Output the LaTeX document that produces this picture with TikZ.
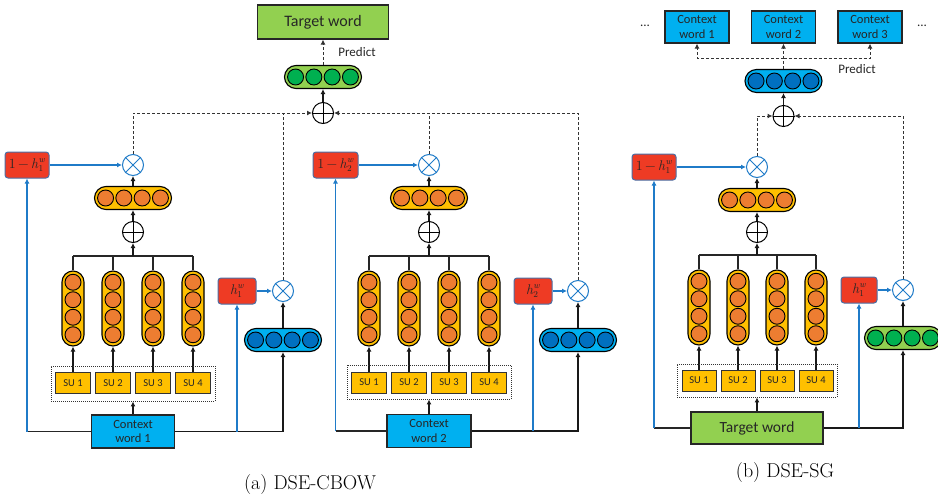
\documentclass[tikz,border=0pt]{standalone}
\usepackage{fontspec}
\setsansfont{Carlito}
\usetikzlibrary{arrows.meta}
\definecolor{cwBlue}{HTML}{00B0F0}
\definecolor{bDot}{HTML}{0070C0}
\definecolor{gBox}{HTML}{92D050}
\definecolor{gDot}{HTML}{00B050}
\definecolor{yBox}{HTML}{FFC000}
\definecolor{oDot}{HTML}{ED7D31}
\definecolor{gRed}{HTML}{EE3B24}
\definecolor{gEdge}{HTML}{4A6FA5}
\definecolor{lnBlue}{HTML}{1F7BC8}
\definecolor{nInk}{HTML}{262626}
\tikzset{
  arr/.style={draw=black!90, line width=1.3pt, -{Latex[length=5pt,width=5pt]}},
  plain/.style={draw=black!85, line width=1.1pt},
  bluearr/.style={draw=lnBlue, line width=1.2pt, -{Latex[length=5pt,width=5pt]}},
  dashline/.style={draw=black!80, line width=1pt, dash pattern=on 3pt off 2pt},
  dasharr/.style={dashline, -{Latex[length=5pt,width=5pt]}},
  unit/.style={circle, draw=black, line width=0.9pt, minimum size=16pt, inner sep=0pt},
  hvecbox/.style={draw=black, line width=1.1pt, minimum width=77pt, minimum height=23pt,
    rounded corners=11.5pt, inner sep=0pt},
  vvecbox/.style={draw=black, line width=1.1pt, minimum width=22pt, minimum height=75pt,
    rounded corners=11pt, inner sep=0pt},
  oplus/.style={circle, draw=black, fill=white, line width=1pt, minimum size=21pt, inner sep=0pt},
  otimes/.style={circle, draw=lnBlue, fill=white, line width=1pt, minimum size=21pt, inner sep=0pt},
  gatebox/.style={draw=gEdge, fill=gRed, line width=1pt, rounded corners=3pt,
    minimum height=26pt, inner sep=1pt, text=nInk, font=\fontsize{14}{16}\selectfont},
  subox/.style={draw=black!80, fill=yBox, line width=1pt, minimum width=35pt, minimum height=21pt,
    inner sep=0pt, text=nInk, font=\sffamily\fontsize{10.5}{12}\selectfont},
  dotbox/.style={draw=black!80, line width=0.9pt, dash pattern=on 1pt off 1pt, inner sep=0pt},
  cwbox/.style={draw=black!85, fill=cwBlue, line width=1.2pt, minimum height=33pt, inner sep=0pt,
    align=center, text=nInk, font=\sffamily\fontsize{12.5}{14.5}\selectfont},
  twbox/.style={draw=black!85, fill=gBox, line width=1.2pt, inner sep=0pt,
    text=nInk, font=\sffamily\fontsize{16}{18}\selectfont},
  predict/.style={text=nInk, inner sep=0pt, font=\sffamily\fontsize{13}{15}\selectfont},
  caption/.style={inner sep=0pt, font=\fontsize{20}{24}\selectfont},
}
% gate value h with stacked w and index
\newcommand{\hw}[1]{\textit{h}\makebox[6.5pt][l]{\fontsize{9}{10}\selectfont
  \rlap{\raisebox{5.5pt}{\textit{w}}}\raisebox{-3.5pt}{#1}}}
% horizontal and vertical vectors of units
\newcommand{\hvec}[4]{%
  \node[hvecbox, fill=#3] (#1) at (#2) {};
  \foreach \k in {-1.5,-0.5,0.5,1.5}
    \node[unit, fill=#4, xshift=\k*18.3pt] at (#1) {};
}
\newcommand{\vvec}[4]{%
  \node[vvecbox, fill=#3] (#1) at (#2) {};
  \foreach \k in {-1.5,-0.5,0.5,1.5}
    \node[unit, fill=#4, yshift=\k*17.5pt] at (#1) {};
}

\begin{document}
\begin{tikzpicture}[x=1pt,y=-1pt]
\useasboundingbox (0,0) rectangle (938,501);

% ---------- (a) DSE-CBOW ----------
\node[twbox, minimum width=131pt, minimum height=34pt] (tw) at (323,22) {Target word};
\hvec{gv}{323,77}{gBox}{gDot}
\node[oplus] (pt) at (323,113) {};
\node[predict] (pr) at (357,52) {Predict};

% block of context word 1
\node[gatebox, minimum width=44pt] (om1) at (27,165) {1\,−\,\hw{1}};
\node[otimes] (x1) at (133,165) {};
\hvec{ov1}{133,198}{yBox}{oDot}
\node[oplus] (p1) at (133,232) {};
\coordinate (bus1) at (133,256);
\foreach \i/\x in {1/73,2/113,3/153,4/193}{
  \vvec{vv1-\i}{\x,308.5}{yBox}{oDot}
  \node[subox] (su1-\i) at (\x,383) {SU \i};
  \draw[arr] (su1-\i) -- (vv1-\i);
  \draw[plain] (vv1-\i.north) -- (vv1-\i.north |- bus1);
}
\draw[plain] (vv1-1.north |- bus1) -- (vv1-4.north |- bus1);
\node[dotbox, minimum width=164pt, minimum height=35pt] (dot1) at (133,383.5) {};
\node[cwbox, minimum width=83pt] (cw1) at (133,431.5) {Context\\word 1};
\node[gatebox, minimum width=38pt] (h1) at (237,291) {\hw{1}};
\node[otimes] (x2) at (283,291) {};
\hvec{bv1}{283,340}{cwBlue}{bDot}

\draw[arr] (bus1) -- (p1);
\draw[arr] (p1) -- (ov1);
\draw[arr] (ov1) -- (x1);
\draw[bluearr] (om1) -- (x1);
\draw[arr] (cw1) -- (dot1);
\draw[plain] (cw1.west) -- (om1.south |- cw1.west);
\draw[bluearr] (om1.south |- cw1.west) -- (om1.south);
\draw[arr] (cw1.east) -| (bv1.south);
\draw[bluearr] (h1.south |- cw1.east) -- (h1.south);
\draw[bluearr] (h1) -- (x2);
\draw[arr] (bv1) -- (x2);

% block of context word 2
\node[gatebox, minimum width=45pt] (om2) at (335.5,165) {1\,−\,\hw{2}};
\node[otimes] (x3) at (429,165) {};
\hvec{ov2}{429,198}{yBox}{oDot}
\node[oplus] (p2) at (429,232) {};
\coordinate (bus2) at (429,256);
\foreach \i/\x in {1/369,2/409,3/449,4/489}{
  \vvec{vv2-\i}{\x,308.5}{yBox}{oDot}
  \node[subox] (su2-\i) at (\x,382.5) {SU \i};
  \draw[arr] (su2-\i) -- (vv2-\i);
  \draw[plain] (vv2-\i.north) -- (vv2-\i.north |- bus2);
}
\draw[plain] (vv2-1.north |- bus2) -- (vv2-4.north |- bus2);
\node[dotbox, minimum width=164pt, minimum height=34pt] (dot2) at (429,382) {};
\node[cwbox, minimum width=84pt] (cw2) at (429,431) {Context\\word 2};
\node[gatebox, minimum width=38pt] (h2) at (533,291) {\hw{2}};
\node[otimes] (x4) at (578,291) {};
\hvec{bv2}{578,340}{cwBlue}{bDot}

\draw[arr] (bus2) -- (p2);
\draw[arr] (p2) -- (ov2);
\draw[arr] (ov2) -- (x3);
\draw[bluearr] (om2) -- (x3);
\draw[arr] (cw2) -- (dot2);
\draw[plain] (cw2.west) -- (om2.south |- cw2.west);
\draw[bluearr] (om2.south |- cw2.west) -- (om2.south);
\draw[arr] (cw2.east) -| (bv2.south);
\draw[bluearr] (h2.south |- cw2.east) -- (h2.south);
\draw[bluearr] (h2) -- (x4);
\draw[arr] (bv2) -- (x4);

% gated sum and prediction
\draw[dasharr] (x1.north) |- (pt.west);
\draw[dashline] (x2.north) -- (x2.north |- pt.west);
\draw[dasharr] (x3.north) |- (pt.east);
\draw[dashline] (x4.north) |- (x3.north |- pt.east);
\draw[arr] (pt) -- (gv);
\draw[dasharr] (gv) -- (tw);

\node[caption] (capa) at (310,485) {(a) DSE-CBOW};

% ---------- (b) DSE-SG ----------
\node[cwbox, minimum width=64pt, minimum height=32pt] (c1) at (697,27) {Context\\word 1};
\node[cwbox, minimum width=64pt, minimum height=32pt] (c2) at (783.5,27) {Context\\word 2};
\node[cwbox, minimum width=64pt, minimum height=32pt] (c3) at (870,27) {Context\\word 3};
\node[predict] (dl) at (645,26) {...};
\node[predict] (dr) at (922,26) {...};
\hvec{bv3}{783.5,81}{cwBlue}{bDot}
\node[oplus] (pt2) at (783.5,116) {};
\node[predict] (pr2) at (857,69) {Predict};
\coordinate (fork) at (783.5,58);

\node[gatebox, minimum width=44pt] (om3) at (654,167) {1\,−\,\hw{1}};
\node[otimes] (x5) at (757,167) {};
\hvec{ov3}{757,200}{yBox}{oDot}
\node[oplus] (p3) at (757,232) {};
\coordinate (bus3) at (757,255);
\foreach \i/\x in {1/699,2/738,3/777,4/816}{
  \vvec{vv3-\i}{\x,307.5}{yBox}{oDot}
  \node[subox, minimum width=34pt] (su3-\i) at (\x,380.5) {SU \i};
  \draw[arr] (su3-\i) -- (vv3-\i);
  \draw[plain] (vv3-\i.north) -- (vv3-\i.north |- bus3);
}
\draw[plain] (vv3-1.north |- bus3) -- (vv3-4.north |- bus3);
\node[dotbox, minimum width=160pt, minimum height=33pt] (dot3) at (757,380.5) {};
\node[twbox, minimum width=132pt, minimum height=32pt, font=\sffamily\fontsize{15.5}{18}\selectfont] (tw2) at (757,428) {Target word};
\node[gatebox, minimum width=36pt] (h3) at (859,290) {\hw{1}};
\node[otimes] (x6) at (903,290) {};
\hvec{gv2}{903,338}{gBox}{gDot}

\draw[arr] (bus3) -- (p3);
\draw[arr] (p3) -- (ov3);
\draw[arr] (ov3) -- (x5);
\draw[bluearr] (om3) -- (x5);
\draw[arr] (tw2) -- (dot3);
\draw[plain] (tw2.west) -- (om3.south |- tw2.west);
\draw[bluearr] (om3.south |- tw2.west) -- (om3.south);
\draw[arr] (tw2.east) -| (gv2.south);
\draw[bluearr] (h3.south |- tw2.east) -- (h3.south);
\draw[bluearr] (h3) -- (x6);
\draw[arr] (gv2) -- (x6);

\draw[dasharr] (x5.north) |- (pt2.west);
\draw[dasharr] (x6.north) |- (pt2.east);
\draw[arr] (pt2) -- (bv3);
\draw[dasharr] (bv3) -- (c2);
\draw[dasharr] (fork) -| (c1.south);
\draw[dasharr] (fork) -| (c3.south);

\node[caption] (capb) at (785,473) {(b) DSE-SG};

% crosses of the gates
\foreach \n in {pt,p1,p2,pt2,p3}
  \draw[black, line width=1pt] (\n.north) -- (\n.south) (\n.west) -- (\n.east);
\foreach \n in {x1,x2,x3,x4,x5,x6}
  \draw[lnBlue, line width=1pt] (\n.north west) -- (\n.south east) (\n.north east) -- (\n.south west);
\end{tikzpicture}
\end{document}
